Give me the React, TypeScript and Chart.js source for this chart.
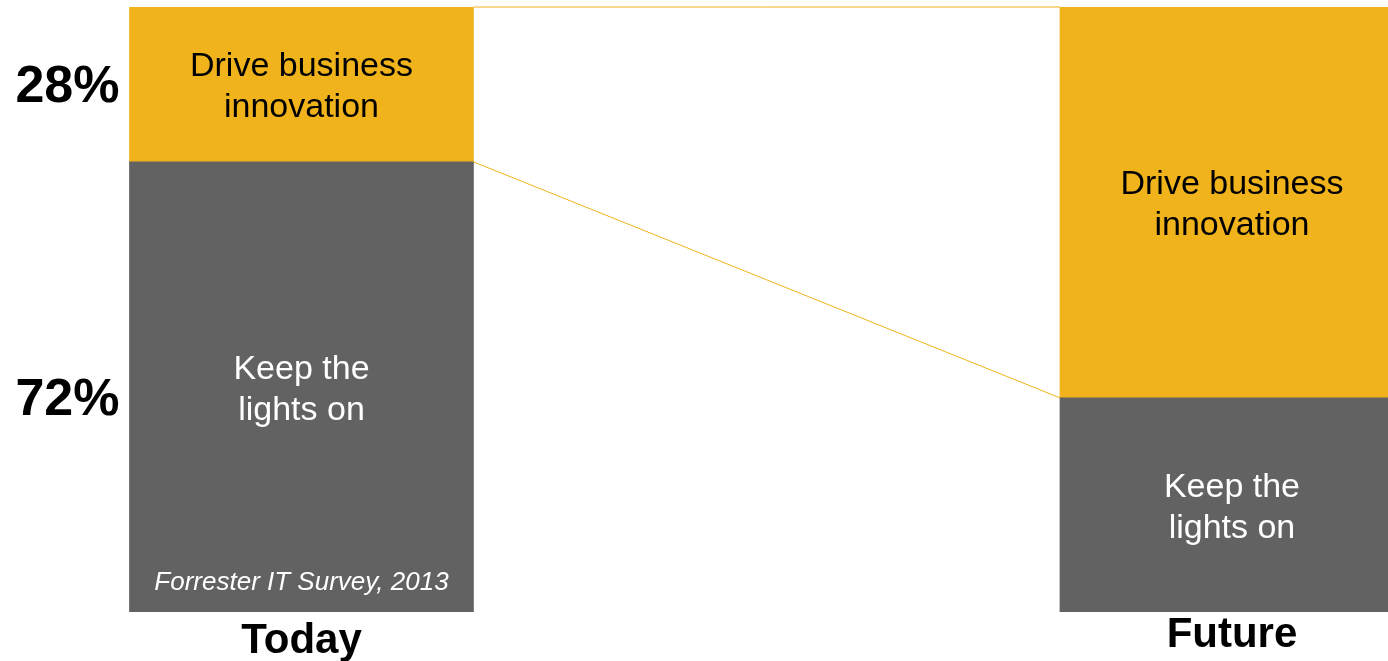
import React, { useEffect, useRef } from "react";
import { Chart, registerables } from "chart.js";

Chart.register(...registerables);

// ---- data ----
const categories = ["Today", "Future"];
const keepLightsOn = [74.4, 35.4];
const driveInnovation = [25.6, 64.6];
const todayShareLabels = ["28%", "72%"]; // innovation, keep
const innovationText = ["Drive business", "innovation"];
const keepText = ["Keep the", "lights on"];
const sourceNote = "Forrester IT Survey, 2013";

// ---- styles ----
const YELLOW = "#F0B31C";
const GRAY = "#626262";
const FONT = "'Liberation Sans', Arial, Helvetica, sans-serif";
const BAR_WIDTH = 344;
const labelOffsets = [41, 35];

const overlayPlugin = {
  id: "overlay",
  afterDatasetsDraw(chart: any) {
    const ctx = chart.ctx;
    // dataset order: [Today keep, Today innov, Future keep, Future innov]
    const el = (ds: number) => chart.getDatasetMeta(ds).data[0];
    const tKeep = el(0), tInn = el(1), fKeep = el(2), fInn = el(3);
    ctx.save();

    // connector lines
    ctx.strokeStyle = YELLOW;
    ctx.lineWidth = 1;
    ctx.beginPath();
    ctx.moveTo(tInn.x + tInn.width / 2, tInn.y);
    ctx.lineTo(fInn.x - fInn.width / 2, fInn.y);
    ctx.moveTo(tInn.x + tInn.width / 2, tInn.base);
    ctx.lineTo(fInn.x - fInn.width / 2, fInn.base);
    ctx.stroke();

    // text inside segments
    const twoLines = (lines: string[], e: any, color: string) => {
      const c = (e.y + e.base) / 2;
      ctx.fillStyle = color;
      ctx.font = `34px ${FONT}`;
      ctx.textAlign = "center";
      ctx.textBaseline = "alphabetic";
      ctx.fillText(lines[0], e.x, c - 8);
      ctx.fillText(lines[1], e.x, c + 33);
    };
    twoLines(innovationText, tInn, "#000000");
    twoLines(innovationText, fInn, "#000000");
    twoLines(keepText, tKeep, "#ffffff");
    twoLines(keepText, fKeep, "#ffffff");

    // source note
    ctx.font = `italic 26px ${FONT}`;
    ctx.fillStyle = "#ffffff";
    ctx.textAlign = "center";
    ctx.fillText(sourceNote, tKeep.x, tKeep.base - 22);

    // percentage labels on the left of Today
    ctx.font = `bold 52px ${FONT}`;
    ctx.fillStyle = "#000000";
    ctx.textAlign = "right";
    const left = tInn.x - tInn.width / 2 - 10;
    ctx.fillText(todayShareLabels[0], left, (tInn.y + tInn.base) / 2 + 18);
    ctx.fillText(todayShareLabels[1], left, (tKeep.y + tKeep.base) / 2 + 28);

    // category labels
    ctx.font = `bold 42px ${FONT}`;
    ctx.textAlign = "center";
    ctx.fillText(categories[0], tKeep.x, tKeep.base + labelOffsets[0]);
    ctx.fillText(categories[1], fKeep.x, fKeep.base + labelOffsets[1]);

    ctx.restore();
  },
};

export default function App() {
  const ref = useRef<HTMLCanvasElement | null>(null);

  useEffect(() => {
    document.body.style.margin = "0";
    if (!ref.current) return;
    const datasets: any[] = [];
    categories.forEach((cat, i) => {
      datasets.push({
        label: `${cat} – Keep the lights on`,
        data: [{ x: i, y: keepLightsOn[i] }],
        backgroundColor: GRAY,
        barThickness: BAR_WIDTH,
        grouped: false,
        borderWidth: 0,
      });
      datasets.push({
        label: `${cat} – Drive business innovation`,
        data: [{ x: i, y: driveInnovation[i] }],
        backgroundColor: YELLOW,
        barThickness: BAR_WIDTH,
        grouped: false,
        borderWidth: 0,
      });
    });

    const chart = new Chart(ref.current, {
      type: "bar",
      data: { datasets },
      options: {
        animation: false,
        responsive: true,
        maintainAspectRatio: false,
        layout: { padding: { top: 7, bottom: 49, left: 0, right: 0 } },
        plugins: { legend: { display: false }, tooltip: { enabled: false } },
        scales: {
          x: {
            type: "linear",
            display: false,
            offset: false,
            grid: { offset: false },
            min: -0.324,
            max: 1.1677,
            afterBuildTicks: (s: any) => {
              s.ticks = [{ value: 0 }, { value: 1 }];
            },
          },
          y: { stacked: true, display: false, min: 0, max: 100 },
        },
      } as any,
      plugins: [overlayPlugin],
    });
    return () => chart.destroy();
  }, []);

  return (
    <div style={{ width: 1388, height: 661, position: "relative" }}>
      <canvas ref={ref} />
    </div>
  );
}
